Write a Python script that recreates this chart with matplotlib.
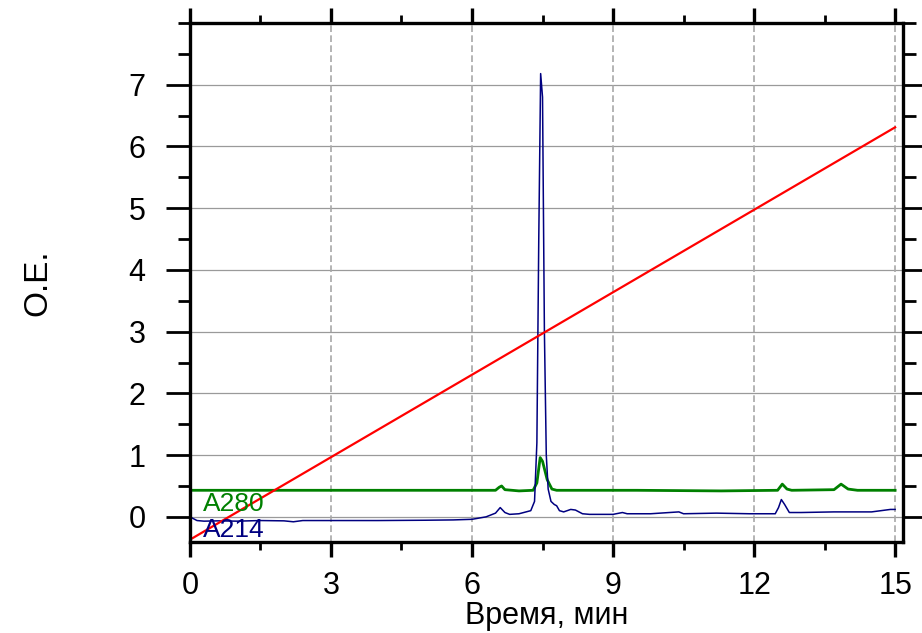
import matplotlib
matplotlib.use("Agg")
import matplotlib.pyplot as plt
from matplotlib.ticker import MultipleLocator

plt.rcParams['font.family'] = ['Liberation Sans', 'DejaVu Sans']

# A214 trace (time, OD)
a214_t = [0.0, 0.05, 0.15, 0.3, 0.6, 1.0, 1.5, 2.0, 2.2, 2.4, 3.0, 4.0, 5.0, 5.6, 6.0,
          6.3, 6.5, 6.6, 6.7, 6.8, 7.0, 7.15, 7.25, 7.33, 7.38, 7.42, 7.46, 7.50, 7.54,
          7.58, 7.62, 7.68, 7.75, 7.8, 7.86, 7.95, 8.1, 8.2, 8.35, 8.5, 9.0, 9.2, 9.3,
          9.8, 10.4, 10.5, 11.2, 11.9, 12.45, 12.52, 12.58, 12.65, 12.75, 13.0, 13.7,
          14.5, 14.9, 15.0]
a214_v = [0.00, -0.02, -0.06, -0.07, -0.065, -0.07, -0.06, -0.065, -0.08, -0.06, -0.06,
          -0.06, -0.055, -0.05, -0.04, 0.0, 0.06, 0.15, 0.07, 0.04, 0.05, 0.08, 0.10,
          0.25, 1.2, 4.5, 7.18, 6.8, 3.0, 1.0, 0.45, 0.25, 0.2, 0.18, 0.1, 0.08, 0.12,
          0.11, 0.05, 0.04, 0.04, 0.07, 0.05, 0.05, 0.08, 0.05, 0.06, 0.05, 0.05, 0.15,
          0.28, 0.2, 0.07, 0.07, 0.08, 0.08, 0.12, 0.12]

# A280 trace
a280_t = [0.0, 6.5, 6.58, 6.63, 6.7, 7.0, 7.3, 7.38, 7.45, 7.5, 7.6, 7.7, 7.8, 9.5,
          11.3, 12.5, 12.6, 12.7, 12.8, 13.7, 13.85, 14.0, 14.2, 15.0]
a280_v = [0.43, 0.43, 0.48, 0.50, 0.44, 0.42, 0.43, 0.55, 0.96, 0.90, 0.60, 0.45, 0.43,
          0.43, 0.42, 0.43, 0.53, 0.45, 0.43, 0.44, 0.53, 0.45, 0.43, 0.43]

# Gradient line
grad_t = [0.0, 15.0]
grad_v = [-0.37, 6.31]

x_ticks = [0, 3, 6, 9, 12, 15]
y_ticks = [0, 1, 2, 3, 4, 5, 6, 7]

fig = plt.figure(figsize=(9.22, 6.33), dpi=100)
ax = fig.add_axes([0.206, 0.1445, 0.773, 0.8192])

ax.plot(a280_t, a280_v, color='#008000', lw=2.0, zorder=3)
ax.plot(a214_t, a214_v, color='#000080', lw=1.1, zorder=4)
ax.plot(grad_t, grad_v, color='#ff0000', lw=1.6, zorder=5)

ax.text(0.28, 0.09, 'A280', color='#008000', fontsize=19, zorder=6)
ax.text(0.28, -0.33, 'A214', color='#000080', fontsize=19, zorder=6)

ax.set_xlim(0, 15.16)
ax.set_ylim(-0.4, 8.0)
ax.set_xticks(x_ticks)
ax.set_yticks(y_ticks)
ax.xaxis.set_minor_locator(MultipleLocator(1.5))
ax.yaxis.set_minor_locator(MultipleLocator(0.5))

for v in y_ticks:
    ax.axhline(v, color='#9a9a9a', lw=0.9, zorder=1)
for v in x_ticks[1:]:
    ax.axvline(v, color='#a8a8a8', lw=1.2, ls=(0, (4, 2)), zorder=1)

ax.tick_params(axis='x', which='major', direction='out', length=11, width=2.4,
               top=True, bottom=True, labelsize=22, pad=10)
ax.tick_params(axis='x', which='minor', direction='out', length=6, width=2.0,
               top=True, bottom=True)
ax.tick_params(axis='y', which='major', direction='out', length=17, width=2.0,
               left=True, right=True, labelsize=22, pad=15)
ax.tick_params(axis='y', which='minor', direction='out', length=9, width=2.0,
               left=True, right=True)

for s in ax.spines.values():
    s.set_linewidth(2.4)
    s.set_zorder(7)

ax.set_xlabel('Время, мин', fontsize=22, labelpad=0)
ax.set_ylabel('О.Е.', fontsize=24, labelpad=54)

fig.savefig('out.png', dpi=100, facecolor='white')
